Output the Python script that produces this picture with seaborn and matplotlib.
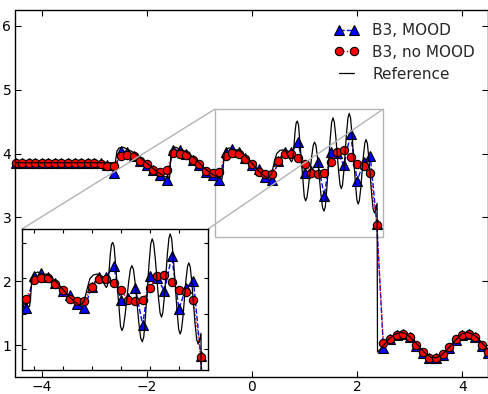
import numpy as np
import pandas as pd
import matplotlib
matplotlib.use('Agg')
import matplotlib.pyplot as plt
import seaborn as sns
from mpl_toolkits.axes_grid1.inset_locator import mark_inset

sns.set_theme(style='white', rc={
    'xtick.direction': 'in', 'ytick.direction': 'in',
    'xtick.top': True, 'ytick.right': True,
    'xtick.bottom': True, 'ytick.left': True,
    'axes.edgecolor': 'black', 'axes.linewidth': 1.0,
    'xtick.major.size': 4, 'ytick.major.size': 4,
    'xtick.major.width': 0.8, 'ytick.major.width': 0.8,
    'xtick.major.pad': 2.0, 'ytick.major.pad': 3.0,
    'xtick.color': 'black', 'ytick.color': 'black',
    'xtick.labelsize': 10, 'ytick.labelsize': 10,
})
plt.rcParams['font.family'] = ['DejaVu Sans']

# coarse grid (dx = 0.125 on [-4.5, 4.5])
x_grid = np.linspace(-4.5, 4.5, 73)

# B3 with MOOD (blue triangles)
rho_mood = [3.857] * 13 + [
    3.85, 3.82, 3.70, 4.04, 4.03, 3.97, 3.89, 3.82, 3.74, 3.67, 3.58,
    4.06, 4.05, 3.99, 3.90, 3.82, 3.71, 3.66, 3.58,
    4.03, 4.08, 4.02, 3.93, 3.82, 3.76, 3.64, 3.58,
    3.88, 4.02, 4.02, 4.18, 3.69, 3.72, 3.87, 3.34,
    4.03, 4.01, 3.82, 4.31, 3.57, 3.87, 3.96, 2.90,
    0.95, 1.09, 1.16, 1.18, 1.13, 0.99, 0.88, 0.79, 0.79, 0.85,
    0.96, 1.08, 1.16, 1.18, 1.13, 0.99, 0.88]

# B3 without MOOD (red circles)
rho_nomood = [3.857] * 13 + [
    3.83, 3.81, 3.81, 3.97, 3.98, 3.96, 3.89, 3.83, 3.75, 3.71, 3.74,
    4.01, 4.00, 3.98, 3.90, 3.83, 3.72, 3.70, 3.71,
    3.97, 4.01, 4.00, 3.92, 3.83, 3.71, 3.68, 3.68,
    3.88, 3.99, 3.99, 3.93, 3.83, 3.70, 3.68, 3.69,
    3.87, 4.03, 4.05, 3.95, 3.83, 3.80, 3.69, 2.88,
    1.03, 1.10, 1.165, 1.18, 1.13, 1.00, 0.89, 0.80, 0.80, 0.855,
    0.97, 1.09, 1.165, 1.18, 1.13, 1.00, 0.89]

# reference solution
ref_x = [-4.5, -2.60, -2.59, -2.57, -2.53, -2.45, -2.38, -2.30, -2.20, -2.10,
         -2.00, -1.90, -1.80, -1.70, -1.60, -1.57,
         -1.56, -1.54, -1.50, -1.45, -1.38, -1.30, -1.20, -1.10, -1.00,
         -0.90, -0.80, -0.70, -0.60, -0.57,
         -0.55, -0.53, -0.49, -0.43, -0.35, -0.28, -0.20, -0.10, 0.00, 0.10,
         0.20, 0.27, 0.32, 0.37, 0.42, 0.47, 0.53, 0.60, 0.65, 0.70, 0.75,
         0.77, 0.79, 0.805, 0.82, 0.84, 0.86,
         0.885, 0.91, 0.94, 0.97, 0.995, 1.02,
         1.045, 1.075, 1.105, 1.135, 1.165, 1.19,
         1.217, 1.25, 1.28, 1.31, 1.343, 1.37,
         1.395, 1.425, 1.455, 1.485, 1.515, 1.54,
         1.565, 1.593, 1.62, 1.647, 1.675, 1.70,
         1.722, 1.75, 1.775, 1.80, 1.828, 1.85,
         1.875, 1.905, 1.935, 1.965, 1.995, 2.02,
         2.042, 2.07, 2.095, 2.12, 2.148, 2.17,
         2.195, 2.223, 2.25, 2.277, 2.305, 2.33,
         2.355, 2.38, 2.388,
         2.50, 2.60, 2.70, 2.80, 2.90, 3.00, 3.10, 3.20, 3.30, 3.40, 3.50,
         3.60, 3.70, 3.80, 3.90, 4.00, 4.10, 4.20, 4.30, 4.40, 4.50]
ref_y = [3.857, 3.857, 3.92, 4.04, 4.09, 4.10, 4.07, 4.04, 3.99, 3.92,
         3.85, 3.78, 3.71, 3.66, 3.62, 3.61,
         3.75, 4.02, 4.09, 4.10, 4.07, 4.05, 4.00, 3.93, 3.85,
         3.77, 3.70, 3.65, 3.61, 3.60,
         3.75, 4.00, 4.07, 4.09, 4.06, 4.06, 4.02, 3.94, 3.85, 3.75,
         3.67, 3.63, 3.63, 3.68, 3.85, 4.00, 4.05, 4.06, 4.03, 3.94, 3.87,
         3.90, 4.02, 4.19, 4.35, 4.48, 4.51,
         4.45, 4.20, 3.885, 3.57, 3.32, 3.26,
         3.31, 3.49, 3.72, 3.95, 4.13, 4.18,
         4.13, 3.91, 3.64, 3.37, 3.15, 3.10,
         3.17, 3.47, 3.83, 4.20, 4.49, 4.56,
         4.50, 4.28, 4.005, 3.73, 3.51, 3.45,
         3.51, 3.745, 4.04, 4.335, 4.57, 4.63,
         4.56, 4.275, 3.92, 3.565, 3.28, 3.21,
         3.26, 3.46, 3.715, 3.97, 4.17, 4.22,
         4.16, 3.93, 3.645, 3.36, 3.13, 3.07,
         3.12, 3.22, 0.89,
         0.99, 1.09, 1.16, 1.196, 1.19, 1.13, 1.05, 0.96, 0.87, 0.81, 0.80,
         0.84, 0.92, 1.01, 1.10, 1.18, 1.20, 1.17, 1.11, 1.01, 0.93]

coarse = pd.DataFrame({'x': x_grid, 'mood': rho_mood, 'nomood': rho_nomood})
ref = pd.DataFrame({'x': ref_x, 'rho': ref_y})


def draw(a, clip, labels):
    sns.lineplot(data=coarse, x='x', y='mood', ax=a, color='blue', linestyle='--',
                 lw=1, marker='^', markersize=7.5, markeredgecolor='black',
                 markeredgewidth=0.8, estimator=None, sort=False, clip_on=clip,
                 label='B3, MOOD' if labels else None)
    sns.lineplot(data=coarse, x='x', y='nomood', ax=a, color='red', linestyle=':',
                 lw=1, marker='o', markersize=6, markeredgecolor='black',
                 markeredgewidth=0.8, estimator=None, sort=False, clip_on=clip,
                 label='B3, no MOOD' if labels else None)
    sns.lineplot(data=ref, x='x', y='rho', ax=a, color='black', lw=0.9,
                 estimator=None, sort=False,
                 label='Reference' if labels else None)
    a.set_xlabel('')
    a.set_ylabel('')


fig = plt.figure(figsize=(4.89, 3.94), dpi=100)
ax = fig.add_axes([15.5 / 489, 17 / 394, 473 / 489, 367 / 394])
draw(ax, False, True)
ax.set_xlim(-4.5, 4.5)
ax.set_ylim(0.5, 6.25)
ax.set_xticks([-4, -2, 0, 2, 4])
ax.set_yticks([1, 2, 3, 4, 5, 6])
ax.legend(loc='upper right', bbox_to_anchor=(0.994, 0.994), frameon=False,
          numpoints=2, fontsize=11, handlelength=1.6, handletextpad=0.9,
          labelspacing=0.45, borderaxespad=0.3)

# zoomed inset
axins = fig.add_axes([22 / 489, 24 / 394, 186 / 489, 141 / 394])
draw(axins, True, False)
axins.set_xlim(-0.7, 2.5)
axins.set_ylim(2.7, 4.7)
axins.set_xticks([-0.5, 0, 0.5, 1.0, 1.5, 2.0])
axins.set_yticks([3.0, 3.5, 4.0, 4.5])
axins.tick_params(labelleft=False, labelbottom=False, length=3)
if axins.get_legend() is not None:
    axins.get_legend().remove()
mark_inset(ax, axins, loc1=2, loc2=1, fc='none', ec='0.7', lw=1)

fig.savefig('out.png', dpi=100)
